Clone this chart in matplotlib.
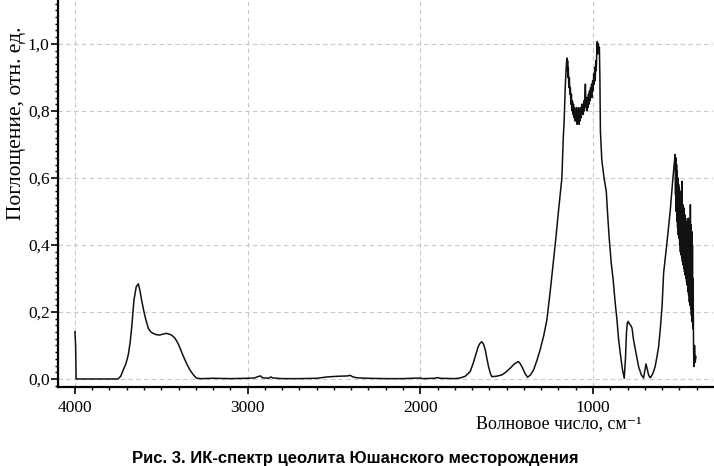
import matplotlib
matplotlib.use("Agg")
import matplotlib.pyplot as plt
from matplotlib.ticker import MultipleLocator, FuncFormatter

# OH region 4000-2000 cm-1
wn_oh = [4000, 3996, 3993, 3800, 3750, 3735, 3720, 3705, 3691, 3680, 3671, 3658, 3645,
         3633, 3624, 3614, 3604, 3594, 3575, 3560, 3546, 3528, 3508, 3490, 3469, 3455,
         3440, 3421, 3405, 3392, 3378, 3363, 3348, 3334, 3318, 3305, 3295, 3270, 3200,
         3100, 3000, 2960, 2935, 2925, 2915, 2880, 2865, 2855, 2800, 2700, 2600, 2540,
         2480, 2420, 2407, 2390, 2370, 2350, 2300, 2200, 2100, 2001, 1990, 1920, 1897,
         1885, 1800]
a_oh = [0.141, 0.10, 0.0, 0.0, 0.0, 0.008, 0.027, 0.045, 0.072, 0.11, 0.156, 0.236, 0.275,
        0.284, 0.265, 0.236, 0.21, 0.186, 0.151, 0.140, 0.136, 0.132, 0.131, 0.134, 0.136, 0.134,
        0.131, 0.122, 0.108, 0.093, 0.075, 0.057, 0.040, 0.027, 0.015, 0.007, 0.002, 0.001, 0.002,
        0.001, 0.002, 0.003, 0.008, 0.009, 0.004, 0.002, 0.006, 0.003, 0.001, 0.001, 0.002, 0.006,
        0.008, 0.009, 0.011, 0.006, 0.004, 0.003, 0.002, 0.001, 0.001, 0.003, 0.001, 0.002, 0.004,
        0.002, 0.001]

# water bending + rise of the Si-O band
wn_h2o = [1769, 1740, 1711, 1695, 1682, 1665, 1655, 1644, 1634, 1624, 1614, 1605, 1595,
          1586, 1560, 1528, 1505, 1480, 1455, 1432, 1422, 1412, 1395, 1379, 1362, 1344,
          1325, 1306, 1285, 1267, 1248, 1230, 1215, 1201, 1190, 1180, 1172, 1167, 1160, 1155]
a_h2o = [0.003, 0.008, 0.022, 0.045, 0.067, 0.096, 0.106, 0.111, 0.104, 0.087, 0.060, 0.037, 0.018,
         0.007, 0.008, 0.012, 0.020, 0.032, 0.045, 0.052, 0.046, 0.037, 0.018, 0.005, 0.012, 0.027,
         0.055, 0.087, 0.13, 0.176, 0.26, 0.346, 0.42, 0.495, 0.55, 0.60, 0.72, 0.77, 0.88, 0.93]

# main Si-O band (noisy)
wn_sio = [1151, 1149, 1147, 1145, 1143, 1140, 1137, 1134, 1131, 1128, 1125, 1122, 1119, 1116,
          1113, 1110, 1107, 1104, 1101, 1098, 1095, 1092, 1089, 1086, 1083, 1080, 1077, 1074,
          1071, 1068, 1065, 1062, 1059, 1056, 1053, 1050, 1047, 1044, 1041, 1038, 1035, 1032,
          1029, 1026, 1023, 1020, 1017, 1014, 1011, 1008, 1005, 1002, 999, 996, 993, 990, 987,
          984, 981, 978, 975, 972, 969, 966, 963, 960, 957]
a_sio = [0.958, 0.92, 0.95, 0.90, 0.93, 0.87, 0.90, 0.85, 0.87, 0.82, 0.85, 0.80, 0.83, 0.79,
         0.82, 0.78, 0.81, 0.77, 0.80, 0.77, 0.81, 0.76, 0.80, 0.77, 0.81, 0.76, 0.80, 0.77,
         0.81, 0.78, 0.82, 0.79, 0.82, 0.79, 0.83, 0.80, 0.84, 0.88, 0.81, 0.84, 0.80, 0.84,
         0.81, 0.85, 0.82, 0.86, 0.83, 0.87, 0.84, 0.88, 0.84, 0.89, 0.86, 0.91, 0.88, 0.93, 0.89,
         0.95, 0.92, 0.98, 1.007, 0.97, 1.00, 0.98, 0.99, 0.90, 0.74]

# 950-525 cm-1
wn_low = [949, 936, 923, 915, 906, 895, 883, 872, 861, 852, 842, 830, 819, 812, 806, 801,
          796, 790, 782, 774, 765, 750, 736, 720, 707, 700, 693, 686, 678, 670, 665, 652,
          640, 630, 620, 610, 600, 591, 572, 553, 538, 530]
a_low = [0.654, 0.60, 0.56, 0.49, 0.42, 0.35, 0.295, 0.23, 0.176, 0.12, 0.077, 0.03, 0.002, 0.06,
         0.14, 0.167, 0.172, 0.165, 0.16, 0.152, 0.116, 0.075, 0.037, 0.012, 0.003, 0.025, 0.045,
         0.03, 0.012, 0.004, 0.005, 0.018, 0.037, 0.065, 0.096, 0.15, 0.216, 0.316, 0.405, 0.50,
         0.594, 0.64]

# noisy tail 524-404 cm-1
wn_tail = [524, 522, 520, 518, 516, 514, 512, 510, 508, 506, 504, 502, 500, 498, 496, 494,
           492, 490, 488, 486, 484, 482, 480, 478, 476, 474, 472, 470, 468, 466, 464, 462,
           460, 458, 456, 454, 452, 450, 448, 446, 444, 442, 440, 438, 436, 434, 432, 430,
           428, 426, 424, 422, 420, 418, 416, 412, 408, 404]
a_tail = [0.67, 0.55, 0.66, 0.50, 0.64, 0.47, 0.62, 0.45, 0.60, 0.43, 0.58, 0.42, 0.57, 0.40,
          0.55, 0.38, 0.56, 0.37, 0.53, 0.36, 0.59, 0.35, 0.52, 0.34, 0.50, 0.33, 0.51, 0.32,
          0.49, 0.31, 0.48, 0.30, 0.47, 0.29, 0.46, 0.28, 0.47, 0.26, 0.48, 0.25, 0.45, 0.23,
          0.47, 0.22, 0.52, 0.21, 0.46, 0.19, 0.44, 0.17, 0.40, 0.15, 0.30, 0.12, 0.037, 0.10,
          0.05, 0.067]

wn = wn_oh + wn_h2o + wn_sio + wn_low + wn_tail
absorb = a_oh + a_h2o + a_sio + a_low + a_tail

serif = ["Liberation Serif", "DejaVu Serif"]

fig = plt.figure(figsize=(7.14, 4.66), dpi=100)
ax = fig.add_axes([58 / 714, 79 / 466, 655 / 714, 387 / 466])

ax.plot(wn, absorb, color="#111111", lw=1.1)

ax.set_xlim(4098, 305)
ax.set_ylim(-0.024, 1.131)

ax.spines["top"].set_visible(False)
ax.spines["right"].set_visible(False)
ax.spines["left"].set_linewidth(1.6)
ax.spines["bottom"].set_linewidth(1.6)

ax.xaxis.set_major_locator(MultipleLocator(1000))
ax.xaxis.set_minor_locator(MultipleLocator(100))
ax.yaxis.set_major_locator(MultipleLocator(0.2))
ax.yaxis.set_minor_locator(MultipleLocator(0.02))
ax.yaxis.set_major_formatter(FuncFormatter(lambda v, p: f"{v:.1f}".replace(".", ",")))

ax.tick_params(axis="both", which="major", direction="out", length=5, width=1.2,
               labelsize=12.5, color="black")
ax.tick_params(axis="both", which="minor", direction="out", length=2.5, width=1.0)
ax.tick_params(axis="x", which="major", pad=4)
ax.tick_params(axis="y", which="major", pad=1)
for lab in ax.get_xticklabels() + ax.get_yticklabels():
    lab.set_fontfamily(serif)

ax.grid(True, which="major", color="#c8c8c8", linestyle=(0, (4, 3)), linewidth=0.8)
ax.set_axisbelow(True)

fig.text(17 / 714, 1 - 123 / 466, "Поглощение, отн. ед.", rotation=90, ha="center",
         va="center", fontsize=15.5, family=serif)
fig.text(559 / 714, 1 - 424 / 466, "Волновое число, см⁻¹", ha="center", va="center",
         fontsize=13, family=serif)
fig.text(355.5 / 714, 1 - 458 / 466, "Рис. 3. ИК-спектр цеолита Юшанского месторождения",
         ha="center", va="center", fontsize=12, fontweight="bold", family="Liberation Sans")

fig.savefig("out.png", dpi=100)
